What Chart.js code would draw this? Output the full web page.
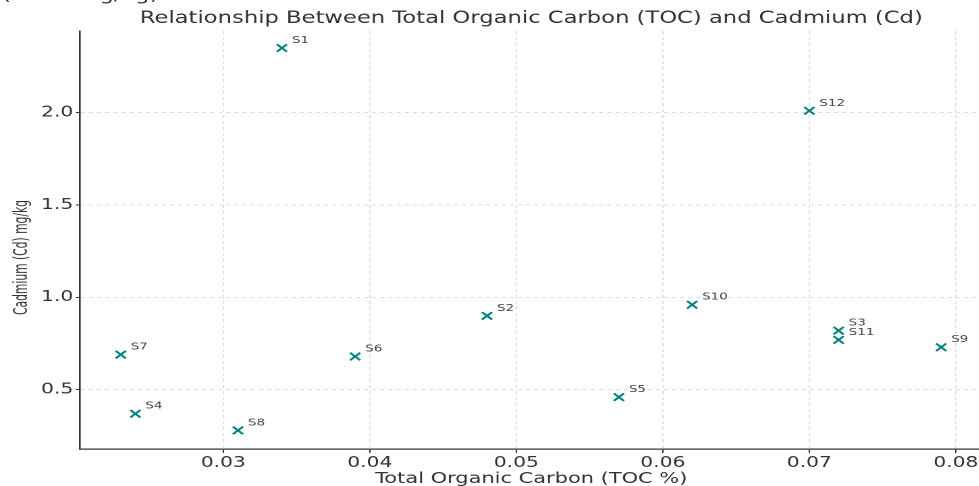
<!DOCTYPE html>
<html>
<head>
<meta charset="utf-8">
<script src="https://cdn.jsdelivr.net/npm/chart.js@4.4.1/dist/chart.umd.min.js"></script>
<style>
  html, body { margin: 0; padding: 0; background: #fff; overflow: hidden; }
  #wrap { position: absolute; left: 0; top: 0; height: 486px; transform-origin: 0 0; }
</style>
</head>
<body>
<div id="wrap"><canvas id="chart"></canvas></div>
<script>
/* ---------- Data ---------- */
const sampleLabels = ['S1', 'S2', 'S3', 'S4', 'S5', 'S6', 'S7', 'S8', 'S9', 'S10', 'S11', 'S12'];
const tocValues = [0.034, 0.048, 0.072, 0.024, 0.057, 0.039, 0.023, 0.031, 0.079, 0.062, 0.072, 0.070];
const cdValues = [2.35, 0.90, 0.82, 0.37, 0.46, 0.68, 0.69, 0.28, 0.73, 0.96, 0.77, 2.01];
const xTicks = [0.03, 0.04, 0.05, 0.06, 0.07, 0.08];
const yTicks = [0.5, 1.0, 1.5, 2.0];

const titleText = 'Relationship Between Total Organic Carbon (TOC) and Cadmium (Cd)';
const xTitle = 'Total Organic Carbon (TOC %)';
const yTitle = 'Cadmium (Cd) mg/kg';
const cutText = '(Cd in mg/kg)';

/* ---------- Layout (picture is stretched horizontally) ---------- */
const SX = 1.35;
const wrap = document.getElementById('wrap');
// extra 7px: chart.js keeps room for half of the last x tick label
wrap.style.width = (983 / SX + 7) + 'px';
wrap.style.transform = `scaleX(${SX})`;

const FONT = "'DejaVu Sans', sans-serif";
const TEAL = '#008080';

const textPlugin = {
  id: 'texts',
  afterDatasetsDraw(chart) {
    const { ctx } = chart;
    const meta = chart.getDatasetMeta(0);
    ctx.save();
    ctx.fillStyle = '#444';
    ctx.font = `10px ${FONT}`;
    ctx.textAlign = 'left';
    ctx.textBaseline = 'alphabetic';
    meta.data.forEach((pt, i) => {
      ctx.fillText(sampleLabels[i], pt.x + 7.4, pt.y - 5);
    });
    ctx.restore();
  },
  afterDraw(chart) {
    const { ctx } = chart;
    ctx.save();
    ctx.fillStyle = '#333';
    ctx.textAlign = 'center';
    ctx.textBaseline = 'alphabetic';
    ctx.font = `16.8px ${FONT}`;
    ctx.fillText(titleText, 393.5, 23);
    ctx.font = `15.5px ${FONT}`;
    ctx.fillText(xTitle, 393.5, 483);

    // y title: taller glyphs, squeezed along its length
    ctx.save();
    ctx.translate(19.8, 257.5);
    ctx.rotate(-Math.PI / 2);
    ctx.font = `14px ${FONT}`;
    const w = ctx.measureText(yTitle).width;
    ctx.scale(115 / w, 1);
    ctx.fillText(yTitle, 0, 0);
    ctx.restore();

    ctx.textAlign = 'left';
    ctx.font = `17px ${FONT}`;
    ctx.fillText(cutText, 1.5, 0);
    ctx.restore();
  }
};

new Chart(document.getElementById('chart'), {
  type: 'scatter',
  data: {
    datasets: [{
      data: tocValues.map((x, i) => ({ x, y: cdValues[i] })),
      pointStyle: 'crossRot',
      pointRadius: 5.3,
      pointHoverRadius: 5.3,
      borderColor: TEAL,
      backgroundColor: TEAL,
      borderWidth: 1.8
    }]
  },
  options: {
    responsive: true,
    maintainAspectRatio: false,
    animation: false,
    devicePixelRatio: 2,
    layout: { padding: { top: 31, left: 0, right: 0, bottom: 0 } },
    plugins: { legend: { display: false }, tooltip: { enabled: false }, title: { display: false } },
    scales: {
      x: {
        type: 'linear',
        min: 0.02022,
        max: 0.08184,
        afterBuildTicks: s => { s.ticks = xTicks.map(v => ({ value: v })); },
        afterFit: s => { s.height = 37; },
        ticks: { callback: v => v.toFixed(2), color: '#333', font: { family: FONT, size: 15 }, padding: 1, maxRotation: 0 },
        grid: { color: '#dcdcdc', lineWidth: 1, tickColor: '#333', tickLength: 4, tickWidth: 1, tickBorderDash: [] },
        border: { display: true, color: '#333', width: 1.3, dash: [3, 3] }
      },
      y: {
        type: 'linear',
        min: 0.179,
        max: 2.442,
        afterBuildTicks: s => { s.ticks = yTicks.map(v => ({ value: v })); },
        afterFit: s => { s.width = 80 / SX; },
        ticks: { callback: v => v.toFixed(1), color: '#333', font: { family: FONT, size: 15 }, padding: 2 },
        grid: { color: '#dcdcdc', lineWidth: 1, tickColor: '#333', tickLength: 3, tickWidth: 1, tickBorderDash: [] },
        border: { display: true, color: '#333', width: 1.3, dash: [3, 3] }
      }
    }
  },
  plugins: [textPlugin]
});
</script>
</body>
</html>
